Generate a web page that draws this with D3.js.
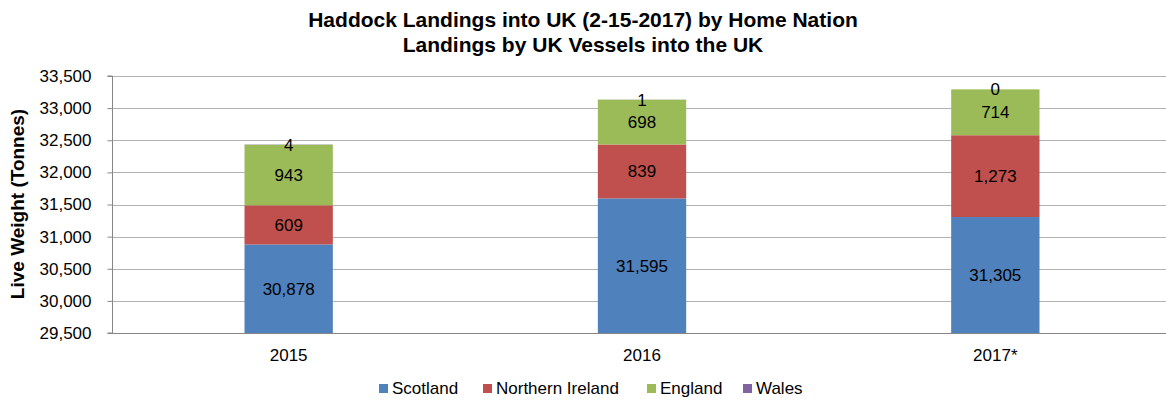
<!DOCTYPE html>
<html>
<head>
<meta charset="utf-8">
<script src="https://cdn.jsdelivr.net/npm/d3@7"></script>
<style>
  body { margin: 0; background: #fff; }
  svg { display: block; font-family: "Liberation Sans", Arial, sans-serif; }
</style>
</head>
<body>
<svg class="chart"></svg>
<script>
// donnees
let years = ["2015", "2016", "2017*"];
let nations = ["Scotland", "Northern Ireland", "England", "Wales"];
let scotland = [30878, 31595, 31305];
let northernIreland = [609, 839, 1273];
let england = [943, 698, 714];
let wales = [4, 1, 0];
let yTicks = [29500, 30000, 30500, 31000, 31500, 32000, 32500, 33000, 33500];
let colors = ["#4F81BD", "#C0504D", "#9BBB59", "#8064A2"];

let w = 1166, h = 400;
let pLeft = 112, pRight = 1172, pTop = 76, pBottom = 333;

let svg = d3.select(".chart").attr("width", w).attr("height", h);

// table pour d3.stack
let table = years.map(function(y, i) {
  return { year: y, "Scotland": scotland[i], "Northern Ireland": northernIreland[i], "England": england[i], "Wales": wales[i] };
});
let series = d3.stack().keys(nations)(table);

let x = d3.scaleBand().domain(years).range([pLeft, pRight]).paddingInner(0.75).paddingOuter(0.375);
let y = d3.scaleLinear().domain([29500, 33500]).range([pBottom, pTop]);

// grille
svg.append("g")
  .selectAll("line")
  .data(yTicks.slice(1))
  .enter().append("line")
  .attr("x1", pLeft).attr("x2", pRight)
  .attr("y1", d => Math.round(y(d)) + 0.5).attr("y2", d => Math.round(y(d)) + 0.5)
  .attr("stroke", "#b3b3b3").attr("stroke-width", 1);

// clip sous l'axe
svg.append("clipPath").attr("id", "plot")
  .append("rect").attr("x", pLeft).attr("y", pTop).attr("width", pRight - pLeft).attr("height", pBottom - pTop);

let g = svg.append("g").attr("clip-path", "url(#plot)");
g.selectAll("g")
  .data(series)
  .enter().append("g")
  .attr("fill", (d, i) => colors[i])
  .selectAll("rect")
  .data(d => d)
  .enter().append("rect")
  .attr("x", d => x(d.data.year))
  .attr("width", x.bandwidth())
  .attr("y", d => y(d[1]))
  .attr("height", d => Math.max(0, y(d[0]) - y(d[1])));

// etiquettes des valeurs
let lab = svg.append("g").attr("font-size", 17).attr("fill", "#000").attr("text-anchor", "middle");
series.forEach(function(s) {
  s.forEach(function(d) {
    let lo = Math.max(d[0], 29500);
    lab.append("text")
      .attr("x", x(d.data.year) + x.bandwidth() / 2)
      .attr("y", (y(lo) + y(d[1])) / 2)
      .attr("dy", "0.35em")
      .text(d3.format(",")(d[1] - d[0]));
  });
});

// axe y
let yAxis = svg.append("g")
  .attr("transform", "translate(" + (pLeft + 0.5) + ",0)")
  .call(d3.axisLeft(y).tickValues(yTicks).tickFormat(d3.format(",")).tickSize(5).tickPadding(16));
yAxis.select(".domain").attr("stroke", "#868686").attr("d", "M-5," + pTop + "H0V" + pBottom + "H-5");
yAxis.selectAll(".tick line").attr("stroke", "#868686");
yAxis.selectAll("text").attr("font-size", 17).attr("fill", "#000").attr("font-family", "Liberation Sans, Arial, sans-serif");

// axe x
svg.append("line")
  .attr("x1", pLeft).attr("x2", pRight)
  .attr("y1", pBottom + 0.5).attr("y2", pBottom + 0.5)
  .attr("stroke", "#868686");
svg.append("g").selectAll("text")
  .data(years)
  .enter().append("text")
  .attr("x", d => x(d) + x.bandwidth() / 2)
  .attr("y", 361)
  .attr("text-anchor", "middle")
  .attr("font-size", 17)
  .text(d => d);

// titres
svg.append("text").attr("x", 583).attr("y", 27).attr("text-anchor", "middle")
  .attr("font-size", 21).attr("font-weight", "bold")
  .text("Haddock Landings into UK (2-15-2017) by Home Nation");
svg.append("text").attr("x", 583).attr("y", 52).attr("text-anchor", "middle")
  .attr("font-size", 21).attr("font-weight", "bold")
  .text("Landings by UK Vessels into the UK");
svg.append("text")
  .attr("transform", "translate(24,204) rotate(-90)")
  .attr("text-anchor", "middle")
  .attr("font-size", 19).attr("font-weight", "bold")
  .text("Live Weight (Tonnes)");

// legende
let legX = [379, 483, 647, 743];
let leg = svg.append("g").selectAll("g")
  .data(nations)
  .enter().append("g")
  .attr("transform", (d, i) => "translate(" + legX[i] + ",388)");
leg.append("rect").attr("x", 0).attr("y", -4).attr("width", 9).attr("height", 9).attr("fill", (d, i) => colors[i]);
leg.append("text").attr("x", 13).attr("dy", "0.35em").attr("font-size", 17).text(d => d);
</script>
</body>
</html>
